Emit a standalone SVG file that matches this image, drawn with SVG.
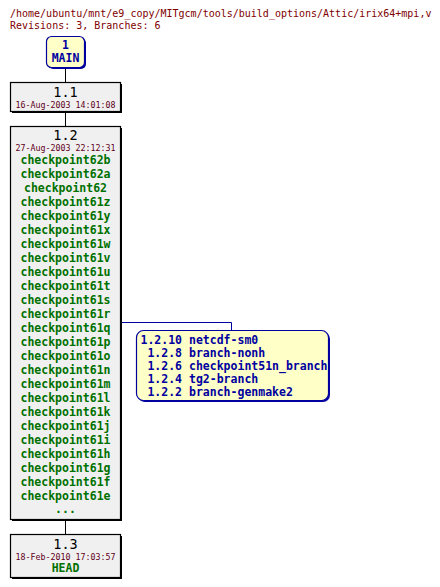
<svg xmlns="http://www.w3.org/2000/svg" width="440" height="587" viewBox="0 0 440 587">
<style>
.t{font-family:"DejaVu Sans Mono","Liberation Mono",monospace}
.title{font-size:10px;fill:#800000}
.rev{font-size:13.5px;fill:#000;text-anchor:middle}
.date{font-size:8.3px;fill:#600020;text-anchor:middle}
.tag{font-size:11.5px;font-weight:bold;fill:#007000;text-anchor:middle}
.br{font-size:11.5px;font-weight:bold;fill:#0000a0}
.ver{text-anchor:end}
.box{fill:#f0f0f0;stroke:#000;stroke-width:1.2}
.sh{fill:#000}
.ybox{fill:#ffffc8;stroke:#0000a0;stroke-width:1.2}
.conn{stroke:#000;stroke-width:1;fill:none}
</style>
<rect width="440" height="587" fill="#fff"/>
<text class="t title" x="10" y="17">/home/ubuntu/mnt/e9_copy/MITgcm/tools/build_options/Attic/irix64+mpi,v</text>
<text class="t title" x="10" y="29">Revisions: 3, Branches: 6</text>
<g id="connectors">
<line class="conn" x1="65.5" y1="67" x2="65.5" y2="82"/>
<line class="conn" x1="65.5" y1="111" x2="65.5" y2="126"/>
<line class="conn" x1="65.5" y1="520" x2="65.5" y2="534"/>
<polyline points="121,322.5 231.5,322.5 231.5,330" fill="none" stroke="#0000a0" stroke-width="1"/>
</g>
<g id="main">
<rect x="48" y="38" width="38" height="31" rx="5" fill="#0000a0"/>
<rect class="ybox" x="46.5" y="36.5" width="38" height="31" rx="5"/>
<text class="t br" x="65.5" y="49" text-anchor="middle">1</text>
<text class="t br" x="65.5" y="62" text-anchor="middle">MAIN</text>
</g>
<g id="r1.1">
<rect class="sh" x="12" y="84" width="110" height="29"/>
<rect class="box" x="10.5" y="82.5" width="110" height="29"/>
<text class="t rev" x="65.5" y="97">1.1</text>
<text class="t date" x="65.5" y="108">16-Aug-2003 14:01:08</text>
</g>
<g id="r1.2">
<rect class="sh" x="12" y="128" width="110" height="393"/>
<rect class="box" x="10.5" y="126.5" width="110" height="393"/>
<text class="t rev" x="65.5" y="139.5">1.2</text>
<text class="t date" x="65.5" y="150.5">27-Aug-2003 22:12:31</text>
<text class="t tag" x="65.5" y="163.5">checkpoint62b</text>
<text class="t tag" x="65.5" y="177.5">checkpoint62a</text>
<text class="t tag" x="65.5" y="191.5">checkpoint62</text>
<text class="t tag" x="65.5" y="205.5">checkpoint61z</text>
<text class="t tag" x="65.5" y="219.5">checkpoint61y</text>
<text class="t tag" x="65.5" y="233.5">checkpoint61x</text>
<text class="t tag" x="65.5" y="247.5">checkpoint61w</text>
<text class="t tag" x="65.5" y="261.5">checkpoint61v</text>
<text class="t tag" x="65.5" y="275.5">checkpoint61u</text>
<text class="t tag" x="65.5" y="289.5">checkpoint61t</text>
<text class="t tag" x="65.5" y="303.5">checkpoint61s</text>
<text class="t tag" x="65.5" y="317.5">checkpoint61r</text>
<text class="t tag" x="65.5" y="331.5">checkpoint61q</text>
<text class="t tag" x="65.5" y="345.5">checkpoint61p</text>
<text class="t tag" x="65.5" y="359.5">checkpoint61o</text>
<text class="t tag" x="65.5" y="373.5">checkpoint61n</text>
<text class="t tag" x="65.5" y="387.5">checkpoint61m</text>
<text class="t tag" x="65.5" y="401.5">checkpoint61l</text>
<text class="t tag" x="65.5" y="415.5">checkpoint61k</text>
<text class="t tag" x="65.5" y="429.5">checkpoint61j</text>
<text class="t tag" x="65.5" y="443.5">checkpoint61i</text>
<text class="t tag" x="65.5" y="457.5">checkpoint61h</text>
<text class="t tag" x="65.5" y="471.5">checkpoint61g</text>
<text class="t tag" x="65.5" y="485.5">checkpoint61f</text>
<text class="t tag" x="65.5" y="499.5">checkpoint61e</text>
<text class="t tag" x="65.5" y="513">...</text>
</g>
<g id="r1.3">
<rect class="sh" x="12" y="536" width="110" height="43"/>
<rect class="box" x="10.5" y="534.5" width="110" height="43"/>
<text class="t rev" x="65.5" y="549">1.3</text>
<text class="t date" x="65.5" y="560">18-Feb-2010 17:03:57</text>
<text class="t tag" x="65.5" y="572">HEAD</text>
</g>
<g id="branches">
<rect x="138" y="332" width="192" height="70" rx="7" fill="#0000a0"/>
<rect class="ybox" x="136.5" y="330.5" width="192" height="70" rx="7"/>
<svg x="136" y="330" width="193" height="71" overflow="hidden">
<text class="t br ver" x="46" y="14">1.2.10</text>
<text class="t br" x="53" y="14">netcdf-sm0</text>
<text class="t br ver" x="46" y="27">1.2.8</text>
<text class="t br" x="53" y="27">branch-nonh</text>
<text class="t br ver" x="46" y="40">1.2.6</text>
<text class="t br" x="53" y="40">checkpoint51n_branch</text>
<text class="t br ver" x="46" y="53">1.2.4</text>
<text class="t br" x="53" y="53">tg2-branch</text>
<text class="t br ver" x="46" y="66">1.2.2</text>
<text class="t br" x="53" y="66">branch-genmake2</text>
</svg>
</g>
</svg>
